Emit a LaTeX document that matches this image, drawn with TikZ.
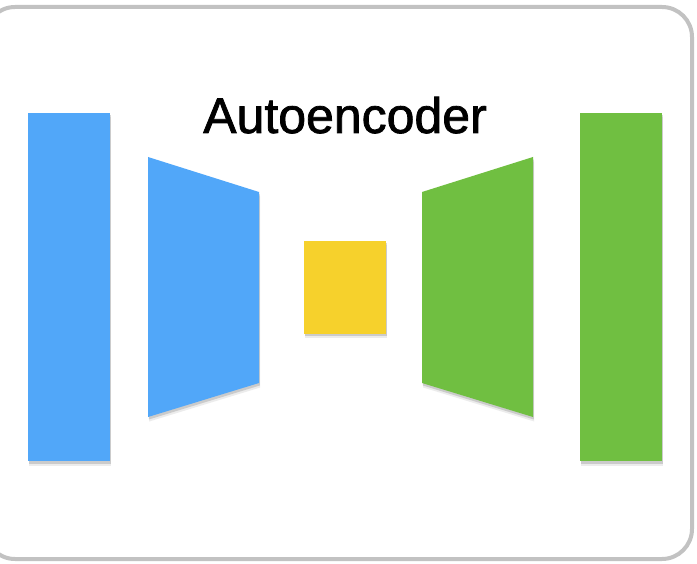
\documentclass[tikz,border=0pt]{standalone}
\usepackage{fontspec}
\setmainfont{Liberation Sans}
\usetikzlibrary{shadows}
\definecolor{kblue}{HTML}{51A7F9}
\definecolor{kgreen}{HTML}{70BF41}
\definecolor{kyellow}{HTML}{F6D12C}
\definecolor{kframe}{HTML}{C2C2C2}
\tikzset{
  layer/.style={draw=none,
    drop shadow={opacity=0.15, shadow xshift=1.2pt, shadow yshift=-4.5pt},
    drop shadow={opacity=0.3, shadow xshift=0.8pt, shadow yshift=-2.5pt}},
}
\begin{document}
\begin{tikzpicture}[x=1pt,y=-1pt]
\useasboundingbox (0,0) rectangle (697,564);
\fill[white] (0,0) rectangle (697,564);
\draw[kframe, line width=4pt, rounded corners=30pt] (-15,7) rectangle (692,559);
% encoder input
\path[layer, fill=kblue] (28,113) rectangle (110,461);
% encoder layer
\path[layer, fill=kblue] (148,157) -- (259,192) -- (259,383) -- (148,417) -- cycle;
% code
\path[layer, fill=kyellow] (304,241) rectangle (386,334);
% decoder layer
\path[layer, fill=kgreen] (422,192) -- (533,157) -- (533,417) -- (422,383) -- cycle;
% output
\path[layer, fill=kgreen] (580,113) rectangle (662,461);
\node[font=\fontsize{50}{60}\selectfont\addfontfeature{FakeBold=1.5}, anchor=base, inner sep=0pt] (title) at (345,133) {Autoencoder};
\end{tikzpicture}
\end{document}
